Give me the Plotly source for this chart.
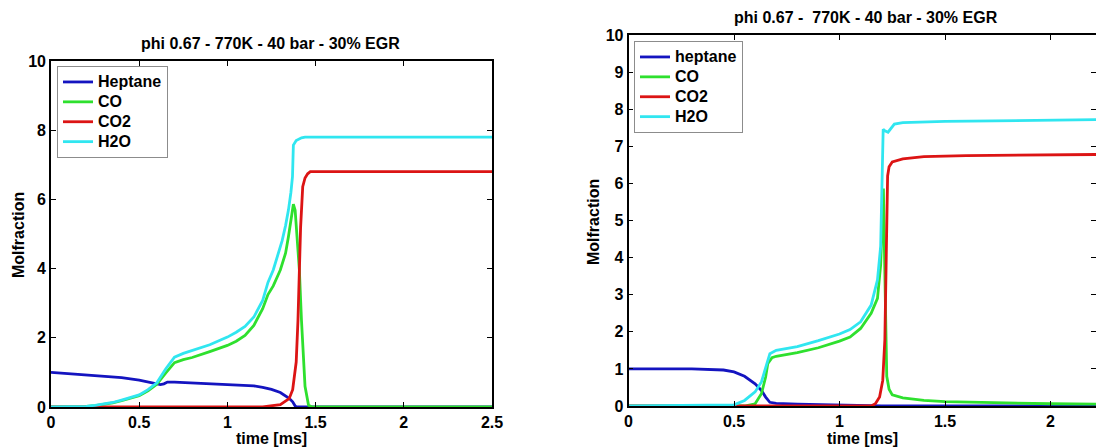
import plotly.graph_objects as go

W, H = 1096, 447

# ---- left panel: time [ms] and mole fraction curves ----
hep_l_t = [0, 0.1, 0.2, 0.3, 0.4, 0.5, 0.55, 0.6, 0.62, 0.64, 0.66, 0.7, 0.8, 0.9, 1.0, 1.1, 1.15, 1.2, 1.25, 1.3, 1.33, 1.35, 1.37, 1.385, 1.4, 2.5]
hep_l = [1.0, 0.96, 0.93, 0.89, 0.85, 0.78, 0.73, 0.67, 0.65, 0.67, 0.72, 0.72, 0.70, 0.68, 0.66, 0.63, 0.61, 0.57, 0.51, 0.42, 0.33, 0.25, 0.15, 0.02, 0.0, 0.0]

co_l_t = [0, 0.15, 0.2, 0.25, 0.3, 0.35, 0.4, 0.45, 0.5, 0.55, 0.6, 0.65, 0.7, 0.75, 0.8, 0.9, 1.0, 1.05, 1.1, 1.15, 1.2, 1.23, 1.26, 1.3, 1.33, 1.346, 1.365, 1.374, 1.384, 1.397, 1.408, 1.42, 1.44, 1.46, 1.48, 2.5]
co_l = [0, 0.0, 0.02, 0.04, 0.07, 0.12, 0.18, 0.25, 0.33, 0.47, 0.66, 0.98, 1.28, 1.37, 1.43, 1.6, 1.78, 1.9, 2.07, 2.36, 2.84, 3.25, 3.5, 3.96, 4.45, 4.92, 5.5, 5.86, 5.69, 4.73, 3.96, 2.5, 0.6, 0.05, 0.0, 0.0]

co2_l_t = [0, 1.2, 1.3, 1.35, 1.37, 1.39, 1.40, 1.408, 1.415, 1.427, 1.44, 1.455, 1.47, 1.5, 2.5]
co2_l = [0, 0.0, 0.07, 0.24, 0.5, 1.3, 2.5, 3.96, 5.2, 6.37, 6.62, 6.74, 6.8, 6.8, 6.8]

h2o_l_t = [0, 0.15, 0.2, 0.25, 0.3, 0.35, 0.4, 0.45, 0.5, 0.55, 0.6, 0.65, 0.7, 0.75, 0.8, 0.9, 1.0, 1.05, 1.1, 1.15, 1.2, 1.23, 1.26, 1.29, 1.31, 1.33, 1.346, 1.36, 1.369, 1.374, 1.39, 1.42, 1.44, 2.5]
h2o_l = [0, 0.0, 0.02, 0.05, 0.08, 0.13, 0.2, 0.27, 0.35, 0.5, 0.7, 1.1, 1.44, 1.55, 1.63, 1.8, 2.02, 2.16, 2.33, 2.6, 3.08, 3.6, 3.96, 4.45, 4.8, 5.25, 5.69, 6.2, 6.66, 7.57, 7.7, 7.78, 7.8, 7.8]

# ---- right panel ----
hep_r_t = [0, 0.3, 0.45, 0.5, 0.55, 0.6, 0.63, 0.65, 0.67, 0.7, 0.8, 1.0, 1.2, 2.25]
hep_r = [1.0, 1.0, 0.97, 0.92, 0.8, 0.6, 0.42, 0.24, 0.1, 0.07, 0.05, 0.02, 0.0, 0.0]

co_r_t = [0, 0.55, 0.6, 0.63, 0.65, 0.66, 0.68, 0.7, 0.8, 0.9, 1.0, 1.05, 1.1, 1.15, 1.18, 1.195, 1.203, 1.208, 1.212, 1.218, 1.224, 1.235, 1.25, 1.3, 1.4, 1.5, 1.75, 2.0, 2.25]
co_r = [0, 0.0, 0.06, 0.33, 0.78, 1.14, 1.3, 1.34, 1.44, 1.57, 1.75, 1.86, 2.09, 2.5, 2.9, 3.8, 5.0, 5.86, 4.5, 2.5, 0.8, 0.45, 0.3, 0.22, 0.15, 0.12, 0.08, 0.06, 0.05]

co2_r_t = [0, 1.15, 1.17, 1.19, 1.205, 1.215, 1.22, 1.224, 1.228, 1.235, 1.25, 1.3, 1.4, 1.6, 2.0, 2.25]
co2_r = [0, 0.0, 0.06, 0.24, 0.69, 1.8, 3.5, 5.5, 6.2, 6.45, 6.58, 6.66, 6.72, 6.75, 6.77, 6.78]

h2o_r_t = [0, 0.5, 0.55, 0.6, 0.63, 0.65, 0.67, 0.7, 0.8, 0.9, 1.0, 1.05, 1.1, 1.15, 1.18, 1.195, 1.203, 1.207, 1.215, 1.23, 1.26, 1.3, 1.5, 2.0, 2.25]
h2o_r = [0, 0.03, 0.15, 0.38, 0.65, 1.05, 1.41, 1.5, 1.6, 1.76, 1.94, 2.06, 2.27, 2.72, 3.4, 4.3, 6.0, 7.46, 7.42, 7.38, 7.6, 7.64, 7.67, 7.71, 7.72]

names_l = ["Heptane", "CO", "CO2", "H2O"]
names_r = ["heptane", "CO", "CO2", "H2O"]
colors = ["#1414c0", "#2ee02e", "#dc1414", "#30e6f0"]

x_ticks = [0, 0.5, 1, 1.5, 2, 2.5]
x_tick_text = ["0", "0.5", "1", "1.5", "2", "2.5"]

title_text = "phi 0.67 - 770K - 40 bar - 30% EGR"
title_text_r = "phi 0.67 -  770K - 40 bar - 30% EGR"

FONT = "Liberation Sans"


def px_x(p):
    return p / W


def px_y(p):
    return 1 - p / H


def entry(label):
    # legend rows are sized from the legend font; the label itself is drawn larger
    return f"<span style='font-size:16px'>{label}</span>"


fig = go.Figure()

left = [(hep_l_t, hep_l), (co_l_t, co_l), (co2_l_t, co2_l), (h2o_l_t, h2o_l)]
right = [(hep_r_t, hep_r), (co_r_t, co_r), (co2_r_t, co2_r), (h2o_r_t, h2o_r)]

for (t, y), name, c in zip(left, names_l, colors):
    fig.add_trace(go.Scatter(x=t, y=y, name=entry(name), mode="lines",
                             line=dict(color=c, width=2.8),
                             xaxis="x", yaxis="y", legend="legend"))
for (t, y), name, c in zip(right, names_r, colors):
    fig.add_trace(go.Scatter(x=t, y=y, name=entry(name), mode="lines",
                             line=dict(color=c, width=2.8),
                             xaxis="x2", yaxis="y2", legend="legend2"))
# carrier for the right-hand tick marks of the second panel
fig.add_trace(go.Scatter(x=[], y=[], xaxis="x2", yaxis="y3", showlegend=False))

tickfont = dict(family=FONT, size=16, color="black", weight="bold")
axis_common = dict(showgrid=False, zeroline=False, showline=True, linecolor="black",
                   linewidth=1.6, ticks="inside", ticklen=5, tickcolor="black",
                   tickwidth=1.2, tickfont=tickfont, automargin=False)

# panel boxes in pixels
L_x0, L_x1, L_y0, L_y1 = 51, 492, 61, 407
R_x0, R_y0, R_y1 = 628.5, 35, 406
r_xmax = (W - R_x0) / 211.0

legend_font = dict(family=FONT, size=13, color="black", weight="bold")

fig.update_layout(
    width=W, height=H, margin=dict(l=0, r=0, t=0, b=0, autoexpand=False),
    paper_bgcolor="white", plot_bgcolor="white",
    xaxis=dict(domain=[px_x(L_x0), px_x(L_x1)], range=[0, 2.5],
               tickvals=x_ticks, ticktext=x_tick_text,
               anchor="y", mirror="ticks", **axis_common),
    yaxis=dict(domain=[px_y(L_y1), px_y(L_y0)], range=[0, 10], dtick=2,
               anchor="x", mirror="ticks", **axis_common),
    xaxis2=dict(domain=[px_x(R_x0), 1.0], range=[0, r_xmax],
                tickvals=x_ticks, ticktext=x_tick_text,
                anchor="y2", mirror="ticks", **axis_common),
    yaxis2=dict(domain=[px_y(R_y1), px_y(R_y0)], range=[0, 10], dtick=1,
                anchor="x2", **axis_common),
    yaxis3=dict(overlaying="y2", side="right", anchor="x2", range=[0, 10], dtick=1,
                showgrid=False, zeroline=False, showline=False, ticks="inside",
                ticklen=5, tickcolor="black", tickwidth=1.2, showticklabels=False,
                automargin=False),
    showlegend=True,
    legend=dict(x=px_x(57), y=px_y(66), xanchor="left", yanchor="top",
                bgcolor="white", bordercolor="#8c8c8c", borderwidth=1,
                font=legend_font, tracegroupgap=0, itemwidth=30),
    legend2=dict(x=px_x(634), y=px_y(41), xanchor="left", yanchor="top",
                 bgcolor="white", bordercolor="#8c8c8c", borderwidth=1,
                 font=legend_font, tracegroupgap=0, itemwidth=30),
)

lab_font = dict(family=FONT, size=16, color="black", weight="bold")
annotations = [
    dict(text=title_text, x=px_x(270), y=px_y(43)),
    dict(text=title_text_r, x=px_x(866), y=px_y(17)),
    dict(text="time [ms]", x=px_x(271), y=px_y(438)),
    dict(text="time [ms]", x=px_x(862), y=px_y(438)),
    dict(text="Molfraction", x=px_x(18), y=px_y(235), textangle=-90),
    dict(text="Molfraction", x=px_x(594), y=px_y(222), textangle=-90),
]
for a in annotations:
    fig.add_annotation(xref="paper", yref="paper", showarrow=False,
                       xanchor="center", yanchor="middle", font=lab_font, **a)

fig.write_html("out.html")
